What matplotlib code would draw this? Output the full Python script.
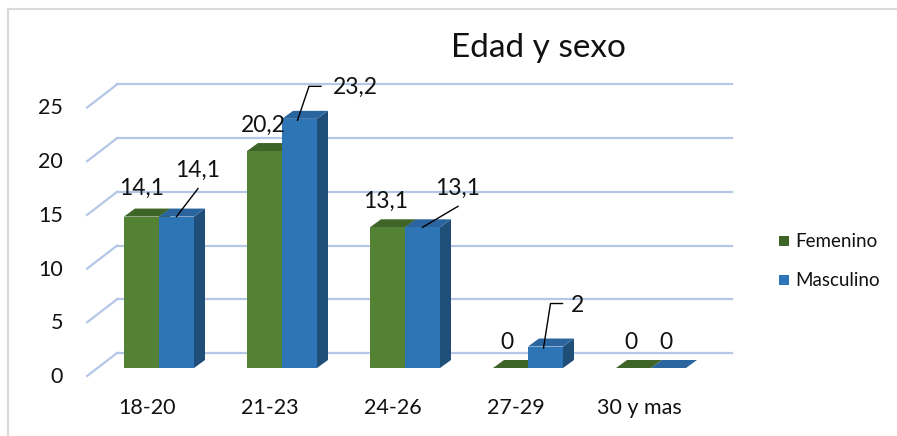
import matplotlib.pyplot as plt
from matplotlib.patches import Polygon, Rectangle
from matplotlib.lines import Line2D

# données
categorias = ["18-20", "21-23", "24-26", "27-29", "30 y mas"]
femenino = [14.1, 20.2, 13.1, 0, 0]
masculino = [14.1, 23.2, 13.1, 2, 0]
etiquetas_f = ["14,1", "20,2", "13,1", "0", "0"]
etiquetas_m = ["14,1", "23,2", "13,1", "2", "0"]
yticks = [0, 5, 10, 15, 20, 25]

# couleurs (face, dessus, côté)
verde = ("#548235", "#3f6428", "#3a5a26")
azul = ("#2e75b6", "#2a65a0", "#1f4e79")
grid_col = "#b4c7e7"
txt = "#111111"

# décalages des étiquettes (pixels) : (dx, dy, coude)
off_f = [(0.5, 28), (-1.5, 26), (-1.5, 26), (-3.5, 26), (-3, 26)]
off_m = [(21.5, 46, "diag"), (55.5, 31, "elbow"), (35.5, 39, "diag"),
         (31.5, 41.5, "elbow"), (-3, 26, None)]

W, H = 897, 436
fig = plt.figure(figsize=(W / 100, H / 100), dpi=100)
fig.patch.set_facecolor("white")
ax = fig.add_axes([97.5 / W, (H - 368) / H, 615 / W, 268.5 / H])
ax.set_xlim(-0.5, 4.5)
ax.set_ylim(0, 25)
ax.axis("off")

# px -> unités de données
sx = 615 / 5.0
sy = 268.5 / 25.0
def px(dx, dy):
    return dx / sx, dy / sy

font = "Lato"
bw = 35 / sx
depth = px(11, 8)
back = px(19.5, 15)
front = px(-10.4, -8)

# cadre
fig.add_artist(Line2D([7.5 / W, 7.5 / W], [0, 1 - 9 / H], color="#d9d9d9", lw=1.5))
fig.add_artist(Line2D([7.5 / W, 1], [1 - 9 / H, 1 - 9 / H], color="#d9d9d9", lw=1.5))

# grille (mur du fond + diagonales)
for v in yticks:
    ax.plot([-0.5 + back[0], 4.5 + back[0]], [v + back[1]] * 2, color=grid_col,
            lw=1.6, clip_on=False, zorder=1)
    ax.plot([-0.5 + front[0], -0.5 + back[0]], [v + front[1], v + back[1]],
            color=grid_col, lw=1.6, clip_on=False, zorder=1)
    ax.text(-0.5 + px(-34.5, 0)[0], v + px(0, -9)[1], str(v), ha="right",
            va="center", fontsize=15.5, family=font, color=txt)


def barre3d(x0, h, cols, z):
    x1 = x0 + bw
    dx, dy = depth
    ax.add_patch(Polygon([(x1, 0), (x1 + dx, dy), (x1 + dx, h + dy), (x1, h)],
                         closed=True, fc=cols[2], ec="none", zorder=z, clip_on=False))
    ax.add_patch(Polygon([(x0, h), (x0 + dx, h + dy), (x1 + dx, h + dy), (x1, h)],
                         closed=True, fc=cols[1], ec="none", zorder=z, clip_on=False))
    if h > 0:
        ax.bar(x0, h, width=bw, align="edge", color=cols[0], zorder=z, clip_on=False)


for i in range(len(categorias)):
    barre3d(i - bw, femenino[i], verde, 3 + i * 2)
    barre3d(i, masculino[i], azul, 4 + i * 2)
    ax.text(i + px(-12, 0)[0], px(0, -40)[1], categorias[i], ha="center",
            va="center", fontsize=15.5, family=font, color=txt)

    # étiquettes
    xf = i - bw / 2
    dxp, dyp = off_f[i]
    ax.text(xf + px(dxp, 0)[0], femenino[i] + px(0, dyp)[1], etiquetas_f[i],
            ha="center", va="center", fontsize=16.5, family=font, color=txt, zorder=20)

    xm = i + bw / 2
    dxp, dyp, kind = off_m[i]
    ax.text(xm + px(dxp, 0)[0], masculino[i] + px(0, dyp)[1], etiquetas_m[i],
            ha="center", va="center", fontsize=16.5, family=font, color=txt, zorder=20)
    ym = masculino[i]
    if kind == "diag":
        ax.plot([xm, xm + px(dxp, 0)[0]], [ym, ym + px(0, dyp - 18)[1]],
                color="black", lw=1, zorder=20, clip_on=False)
    elif kind == "elbow":
        half = 6.5 * len(etiquetas_m[i])
        xe = xm + px(dxp - half - 20, 0)[0]
        xh = xm + px(dxp - half - 8, 0)[0]
        ye = ym + px(0, dyp + 1.5)[1]
        ax.plot([xm - px(2, 0)[0], xe, xh], [ym - px(0, 1.5)[1], ye, ye],
                color="black", lw=1, zorder=20, clip_on=False)

# titre
fig.text(538 / W, 1 - 48 / H, "Edad y sexo", ha="center", va="center",
         fontsize=24, family=font, color=txt)

# légende
for j, (lab, c) in enumerate([("Femenino", verde[1]), ("Masculino", azul[0])]):
    yc = 1 - (241 + 39 * j) / H
    fig.add_artist(Rectangle((779 / W, yc - 5 / H), 10 / W, 10 / H, fc=c, ec="none"))
    fig.text(795 / W, yc, lab, ha="left", va="center", fontsize=13.5, family=font,
             color=txt)

plt.savefig("out.png", dpi=100)
